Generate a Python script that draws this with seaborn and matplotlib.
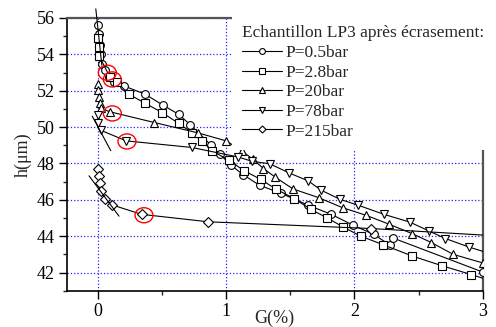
import numpy as np
import pandas as pd
import seaborn as sns
import matplotlib.pyplot as plt
from matplotlib.patches import Ellipse

# G(%) / h(um), one pair of lists per pressure
g_p05 = [0.0, 0.01, 0.016, 0.023, 0.03, 0.055, 0.086, 0.127, 0.20, 0.37, 0.51, 0.63, 0.72,
         0.88, 0.95, 1.035, 1.13, 1.26, 1.43, 1.64, 1.82, 1.99, 2.15, 2.28, 2.30, 3.0]
h_p05 = [55.61, 55.12, 54.51, 54.0, 53.45, 53.12, 52.77, 52.49, 52.27, 51.8, 51.19, 50.7, 50.12,
         49.02, 48.51, 47.92, 47.39, 46.8, 46.35, 45.7, 45.2, 44.6, 44.1, 43.5, 43.9, 42.03]

g_p28 = [0.0, 0.005, 0.01, 0.094, 0.146, 0.24, 0.37, 0.50, 0.63, 0.73, 0.81, 0.89, 1.02, 1.14,
         1.27, 1.39, 1.53, 1.66, 1.79, 1.91, 2.05, 2.22, 2.45, 2.68, 2.91, 3.1]
h_p28 = [54.92, 54.42, 53.9, 52.73, 52.49, 51.81, 51.3, 50.8, 50.2, 49.7, 49.24, 48.69, 48.18, 47.6,
         47.12, 46.58, 46.07, 45.47, 45.0, 44.51, 44.0, 43.54, 42.91, 42.38, 41.89, 41.47]

g_p20 = [0.002, 0.002, 0.01, 0.016, 0.023, 0.094, 0.44, 0.78, 1.0, 1.12, 1.21, 1.29, 1.38, 1.52,
         1.72, 1.91, 2.09, 2.27, 2.45, 2.60, 2.77, 3.0]
h_p20 = [52.35, 52.04, 51.67, 51.31, 51.03, 50.84, 50.25, 49.68, 49.24, 48.7, 48.22, 47.72, 47.26, 46.6,
         46.12, 45.56, 45.15, 44.66, 44.14, 43.65, 43.0, 42.53]

g_p78 = [0.0, 0.0, 0.02, 0.22, 0.73, 1.09, 1.2, 1.34, 1.49, 1.64, 1.74, 1.89, 2.03, 2.23, 2.43,
         2.58, 2.71, 2.89, 3.1]
h_p78 = [50.66, 50.2, 49.83, 49.24, 48.88, 48.36, 48.12, 47.98, 47.48, 47.04, 46.53, 46.02, 45.7, 45.2, 44.78,
         44.29, 43.87, 43.41, 42.95]

g_p215 = [0.0, 0.008, 0.016, 0.02, 0.055, 0.11, 0.34, 0.86, 2.13, 3.1]
h_p215 = [47.72, 47.32, 46.92, 46.48, 46.06, 45.72, 45.2, 44.79, 44.42, 44.02]

labels = ["P=0.5bar", "P=2.8bar", "P=20bar", "P=78bar", "P=215bar"]
markers = ["o", "s", "^", "v", "D"]

# straight fit lines near G=0
fit_g = [[-0.017, 0.03], [-0.045, 0.10], [-0.07, 0.164]]
fit_h = [[56.5, 53.4], [50.6, 48.7], [47.32, 45.1]]

# red circles around the knee points
knee_g = [0.073, 0.112, 0.112, 0.226, 0.359]
knee_h = [52.99, 52.62, 50.75, 49.21, 45.15]

sns.set_theme(style="ticks")
plt.rcParams["font.family"] = ["Liberation Serif", "DejaVu Serif"]

fig = plt.figure(figsize=(4.96, 3.27), dpi=100)
ax = fig.add_axes([0.135, 0.111, 0.838, 0.834])

series = [(g_p05, h_p05), (g_p28, h_p28), (g_p20, h_p20), (g_p78, h_p78), (g_p215, h_p215)]
for (g, h), lab, m in zip(series, labels, markers):
    ms = 4.8 if m == "D" else 5.6
    sns.lineplot(x=g, y=h, ax=ax, sort=False, estimator=None, color="black", lw=0.8,
                 marker=m, markersize=ms, markerfacecolor="white", markeredgecolor="black",
                 markeredgewidth=0.8, label=lab, zorder=3)

for i, (fg, fh) in enumerate(zip(fit_g, fit_h)):
    ax.plot(fg, fh, color="black", lw=0.8, zorder=3, clip_on=(i != 0))

for kg, kh in zip(knee_g, knee_h):
    ax.add_patch(Ellipse((kg, kh), width=0.14, height=0.83, fill=False,
                         edgecolor="red", lw=1.0, zorder=4))

ax.set_xlim(-0.242, 3.0)
ax.set_ylim(41, 56)
ax.set_xticks([0, 1, 2, 3])
ax.set_xticks([0.5, 1.5, 2.5], minor=True)
ax.set_yticks(np.arange(42, 57, 2))
ax.set_yticks(np.arange(41, 56, 2), minor=True)
ax.tick_params(which="major", direction="out", length=6, width=1, labelsize=13, pad=3,
               colors="black", top=False, right=False)
ax.tick_params(which="minor", direction="out", length=3, width=1, top=False, right=False)
ax.grid(True, which="major", color="#2222ff", linestyle=":", linewidth=0.9, zorder=1)
ax.set_axisbelow(True)

for s in ["left", "bottom"]:
    ax.spines[s].set_color("black")
    ax.spines[s].set_linewidth(1.2)
for s in ["top", "right"]:
    ax.spines[s].set_color("#555555")
    ax.spines[s].set_linewidth(1.6)

ax.set_xlabel("G(%)", fontsize=13)
ax.xaxis.set_label_coords(0.5, -0.068)
ax.set_ylabel("h(μm)", fontsize=13, labelpad=3)

leg = ax.legend(title="Echantillon LP3 après écrasement:", loc="upper left",
                bbox_to_anchor=(0.397, 1.011), frameon=True, facecolor="white",
                edgecolor="none", framealpha=1, fancybox=False, fontsize=12.5,
                title_fontsize=12.5, markerscale=0.75, handlelength=2.3, handletextpad=0.2,
                labelspacing=0.2, borderpad=0.6, borderaxespad=0, alignment="left")
leg.set_zorder(5)

fig.savefig("out.png", dpi=100)
